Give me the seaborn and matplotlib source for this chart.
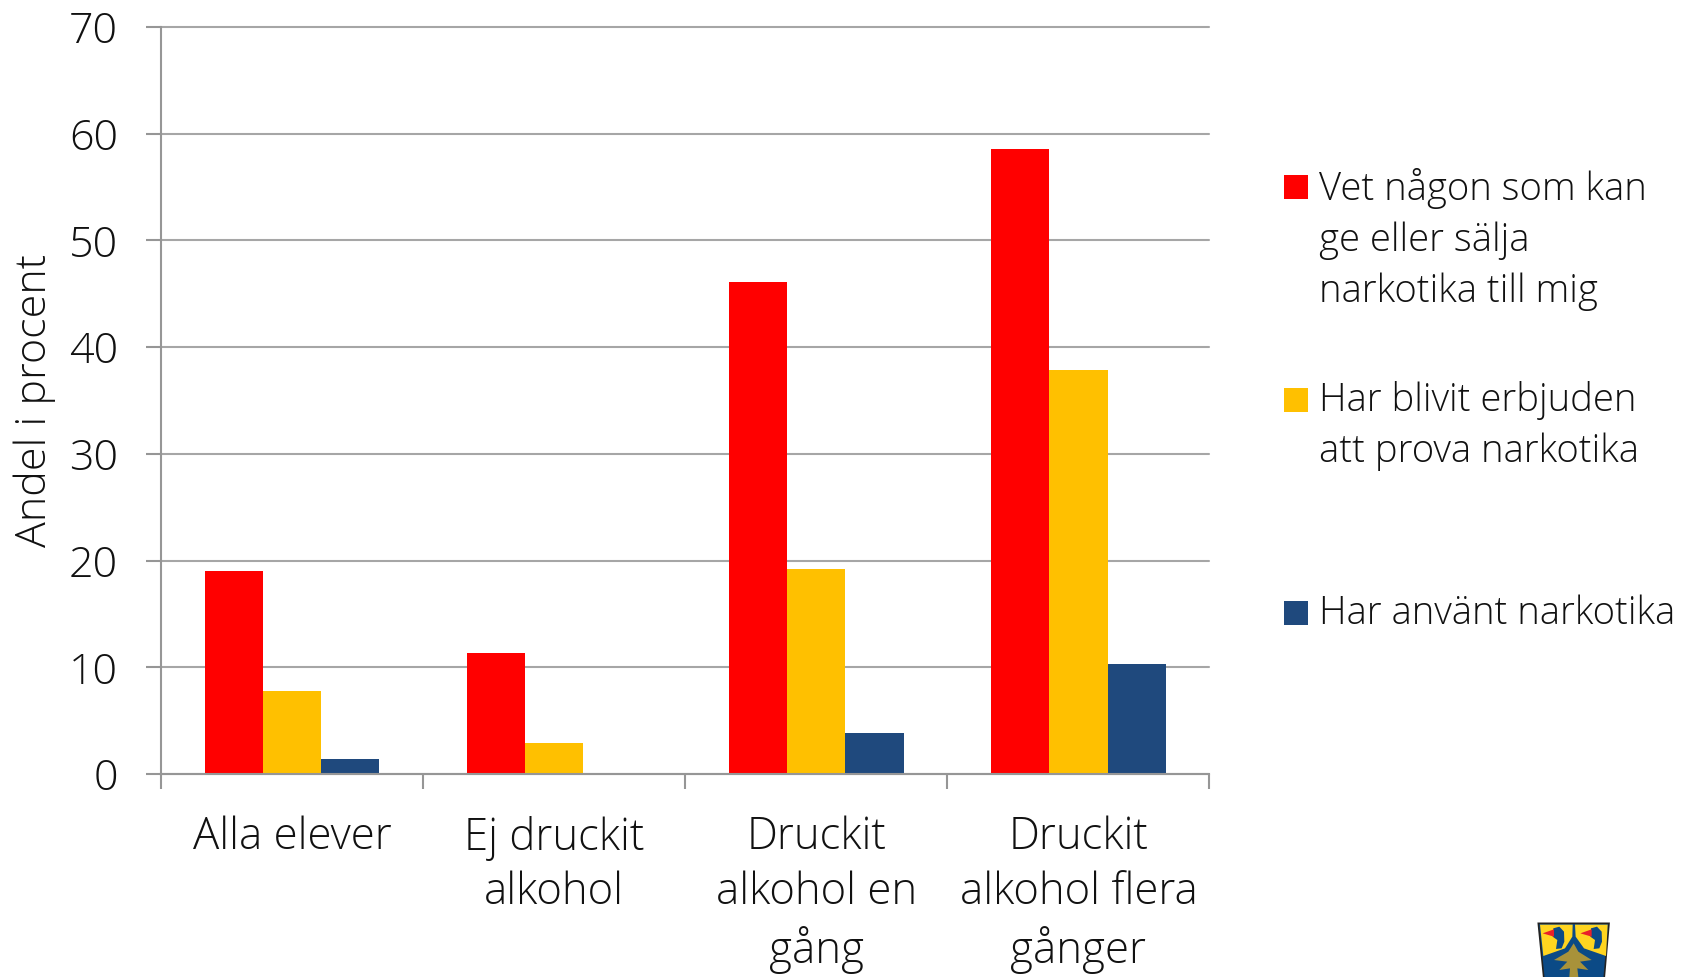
import pandas as pd
import matplotlib
matplotlib.use("Agg")
import matplotlib.pyplot as plt
from matplotlib.patches import Polygon, Rectangle
import seaborn as sns

categories = ["Alla elever", "Ej druckit\nalkohol", "Druckit\nalkohol en\ngång", "Druckit\nalkohol flera\ngånger"]
series_names = ["Vet någon som kan\nge eller sälja\nnarkotika till mig",
                "Har blivit erbjuden\natt prova narkotika",
                "Har använt narkotika"]
vet_nagon = [19.0, 11.3, 46.1, 58.6]
erbjuden = [7.8, 2.9, 19.2, 37.9]
anvant = [1.4, 0.0, 3.8, 10.3]
colors = ["#FF0000", "#FFC000", "#1F497D"]
y_ticks = [0, 10, 20, 30, 40, 50, 60, 70]

sns.set_theme(style="white")
plt.rcParams["font.family"] = ["Open Sans", "DejaVu Sans"]
plt.rcParams["font.weight"] = 300

W, H = 1690, 977
fig = plt.figure(figsize=(W / 100, H / 100), dpi=100)
ax = fig.add_axes([161 / W, 1 - 774 / H, (1209.5 - 161) / W, (774 - 27) / H])

df = pd.DataFrame({"kategori": categories, series_names[0]: vet_nagon,
                   series_names[1]: erbjuden, series_names[2]: anvant})
long_df = df.melt(id_vars="kategori", var_name="serie", value_name="andel")

sns.barplot(data=long_df, x="kategori", y="andel", hue="serie", palette=colors,
            width=0.667, gap=0, saturation=1, legend=False, ax=ax, zorder=3, linewidth=0)

ax.set_xlim(-0.5, 3.5)
ax.set_ylim(0, 70)
ax.set_yticks(y_ticks)
ax.yaxis.grid(True, color="#A6A6A6", linewidth=1.5, zorder=0)
ax.set_axisbelow(True)
for gl in ax.get_ygridlines():
    gl.set_clip_on(False)

for s in ["top", "right"]:
    ax.spines[s].set_visible(False)
for s in ["left", "bottom"]:
    ax.spines[s].set_color("#969696")
    ax.spines[s].set_linewidth(1.5)
    ax.spines[s].set_zorder(4)

# tick marks sit between the categories, like in excel
ax.set_xticks([i + 0.5 for i in range(-1, 4)], minor=True)
ax.tick_params(axis="x", which="major", length=0, pad=30, labelsize=31.5, labelcolor="#111111")
ax.tick_params(axis="x", which="minor", length=11, width=1.5, color="#969696", bottom=True)
ax.tick_params(axis="y", length=11, width=1.5, color="#969696", pad=20, labelsize=31,
               left=True, labelcolor="#111111")
ax.set_xlabel("")
ax.set_ylabel("")
for lab in ax.get_xticklabels():
    lab.set_linespacing(1.3)
fig.text(35 / W, 1 - 400 / H, "Andel i procent", rotation=90, ha="center", va="center",
         fontsize=31, color="#111111")

# legend, placed by hand since the entries are evenly spaced with multi-line text
legend_y = [187, 400, 613]
for name, col, y in zip(series_names, colors, legend_y):
    fig.add_artist(Rectangle((1284 / W, 1 - (y + 12) / H), 24 / W, 24 / H, color=col,
                             transform=fig.transFigure, lw=0))
    fig.text(1319 / W, 1 - (y - 19) / H, name, ha="left", va="top", fontsize=27.5,
             linespacing=1.42, color="#111111")


# small coat of arms in the corner, cut off by the edge
def shield(points, **kw):
    # points measured in the 3x crop starting at (1480, 880)
    xy = [((1480 + x / 3) / W, 1 - (880 + y / 3) / H) for x, y in points]
    fig.add_artist(Polygon(xy, closed=True, transform=fig.transFigure, **kw))


shield([(175, 130), (387, 130), (372, 300), (192, 300)], fc="#0B4A86", ec="#222222", lw=1.2)
for dx, lobe in [(0, [(180, 134), (278, 134), (277, 170), (255, 205), (190, 228)]),
                 (113, [(285, 134), (383, 134), (378, 228), (312, 205), (287, 170)])]:
    shield(lobe, fc="#FFD520", lw=0)
    shield([(x + dx, y) for x, y in [(220, 145), (238, 140), (252, 155), (253, 185), (245, 205),
                                     (228, 207), (232, 180), (218, 170)]], fc="#0B4A86", lw=0)
    shield([(x + dx, y) for x, y in [(188, 160), (222, 148), (222, 170)]], fc="#E8202A", lw=0)
shield([(281, 190), (295, 215), (335, 240), (300, 245), (325, 270), (292, 265), (295, 291),
        (268, 291), (270, 265), (238, 270), (262, 245), (222, 240), (265, 215)],
       fc="#A8923A", lw=0)

fig.savefig("out.png", dpi=100)
